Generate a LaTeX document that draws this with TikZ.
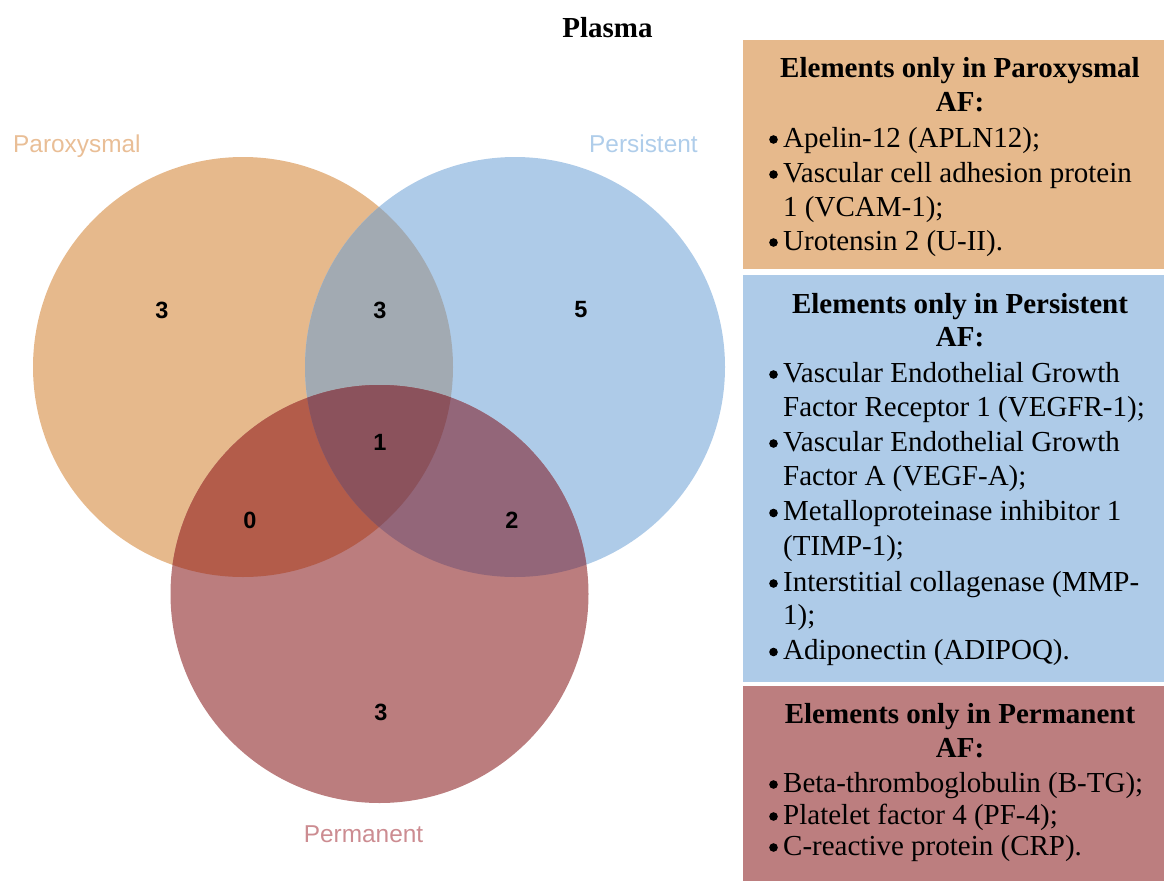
\documentclass[tikz,border=0pt]{standalone}
\usepackage{fontspec}
\setmainfont{Liberation Serif}
\newfontfamily\arialf{Liberation Sans}
\definecolor{cP}{HTML}{E6B98C}
\definecolor{cE}{HTML}{AECBE8}
\definecolor{cM}{HTML}{BB7D7E}
\definecolor{cPE}{HTML}{A2AAB2}
\definecolor{cPM}{HTML}{B35C4A}
\definecolor{cEM}{HTML}{936679}
\definecolor{cAll}{HTML}{8B525C}
\definecolor{bP}{HTML}{E6B98C}
\definecolor{bE}{HTML}{AECBE8}
\definecolor{bM}{HTML}{BC7E7F}
\definecolor{lP}{HTML}{E9BE96}
\definecolor{lE}{HTML}{AFCDEA}
\definecolor{lM}{HTML}{CC8C91}
\newcommand{\blt}{\hspace*{18pt}}
\newcommand{\bdot}[1]{\fill ([xshift=8.5pt,yshift=7.5pt]#1.base west) circle (4.3pt);}
\tikzset{
  txt/.style={inner sep=0pt, anchor=base west, font=\fontsize{29}{34}\selectfont},
  head/.style={inner sep=0pt, anchor=base, font=\fontsize{29}{34}\selectfont\bfseries},
  num/.style={inner sep=0pt, font=\arialf\bfseries\fontsize{23.5}{25}\selectfont},
  setlab/.style={inner sep=0pt, anchor=base west, font=\arialf\fontsize{24.4}{26}\selectfont}
}
\begin{document}
\begin{tikzpicture}[x=1pt,y=-1pt]
\useasboundingbox (0,0) rectangle (1164,881);
\coordinate (cp) at (243,367);
\coordinate (ce) at (515,367);
\coordinate (cm) at (379.5,594);
% circles
\fill[cP] (cp) circle (210pt);
\fill[cE] (ce) circle (210pt);
\fill[cM] (cm) circle (209pt);
\begin{scope}\clip (cp) circle (210pt); \fill[cPE] (ce) circle (210pt);\end{scope}
\begin{scope}\clip (cp) circle (210pt); \fill[cPM] (cm) circle (209pt);\end{scope}
\begin{scope}\clip (ce) circle (210pt); \fill[cEM] (cm) circle (209pt);\end{scope}
\begin{scope}\clip (cp) circle (210pt); \clip (ce) circle (210pt); \fill[cAll] (cm) circle (209pt);\end{scope}
% set labels
\node[setlab, text=lP] (labP) at (13,152) {Paroxysmal};
\node[setlab, text=lE] (labE) at (589,152) {Persistent};
\node[setlab, anchor=base, text=lM] (labM) at (363.5,842) {Permanent};
% numbers
\node[num] (nP) at (162,310) {3};
\node[num] (nPE) at (380,310) {3};
\node[num] (nE) at (581,310) {5};
\node[num] (nAll) at (380,442) {1};
\node[num] (nPM) at (250,520) {0};
\node[num] (nEM) at (512,520) {2};
\node[num] (nM) at (381,712) {3};
% title
\node[head] (title) at (607.5,37) {Plasma};
% boxes
\fill[bP] (743,40) rectangle (1164,269);
\fill[bE] (743,275) rectangle (1164,682);
\fill[bM] (743,686) rectangle (1164,881);
% box 1
\node[head] (h1a) at (960,77) {Elements only in Paroxysmal};
\node[head] (h1b) at (960,111) {AF:};
\node[txt] (p1) at (765,147) {\blt Apelin-12 (APLN12);};
\node[txt] (p2) at (765,182) {\blt Vascular cell adhesion protein};
\node[txt] (p2b) at (783,216) {1 (VCAM-1);};
\node[txt] (p3) at (765,250) {\blt Urotensin 2 (U-II).};
% box 2
\node[head] (h2a) at (960,313) {Elements only in Persistent};
\node[head] (h2b) at (960,346) {AF:};
\node[txt] (e1) at (765,382) {\blt Vascular Endothelial Growth};
\node[txt] (e1b) at (783,416.5) {Factor Receptor 1 (VEGFR-1);};
\node[txt] (e2) at (765,451) {\blt Vascular Endothelial Growth};
\node[txt] (e2b) at (783,485.5) {Factor A (VEGF-A);};
\node[txt] (e3) at (765,520.5) {\blt Metalloproteinase inhibitor 1};
\node[txt] (e3b) at (783,555) {(TIMP-1);};
\node[txt] (e4) at (765,591) {\blt Interstitial collagenase (MMP-};
\node[txt] (e4b) at (783,624.5) {1);};
\node[txt] (e5) at (765,659.5) {\blt Adiponectin (ADIPOQ).};
% box 3
\node[head] (h3a) at (960,723) {Elements only in Permanent};
\node[head] (h3b) at (960,757) {AF:};
\node[txt] (m1) at (765,792) {\blt Beta-thromboglobulin (B-TG);};
\node[txt] (m2) at (765,824) {\blt Platelet factor 4 (PF-4);};
\node[txt] (m3) at (765,855) {\blt C-reactive protein (CRP).};
% bullets
\bdot{p1}\bdot{p2}\bdot{p3}
\bdot{e1}\bdot{e2}\bdot{e3}\bdot{e4}\bdot{e5}
\bdot{m1}\bdot{m2}\bdot{m3}
\end{tikzpicture}
\end{document}
